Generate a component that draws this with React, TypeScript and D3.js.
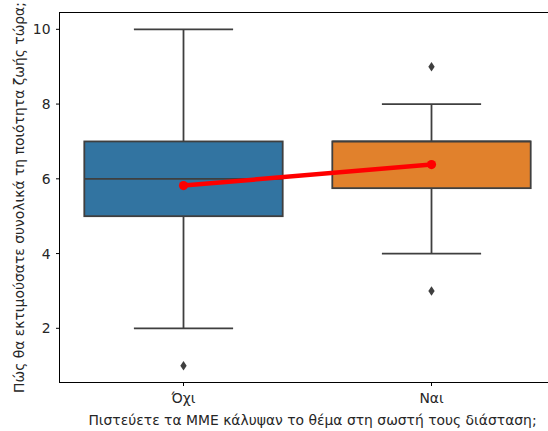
import React from "react";
import * as d3 from "d3";

const categories = ["Όχι", "Ναι"];
const q1 = [5, 5.75];
const medians = [6, 7];
const q3 = [7, 7];
const whiskerLow = [2, 4];
const whiskerHigh = [10, 8];
const outliers = [[1], [3, 9]];
const means = [5.82, 6.38];
const colors = ["#3274a1", "#e1812c"];
const yTicks = [2, 4, 6, 8, 10];
const xLabel = "Πιστεύετε τα ΜΜΕ κάλυψαν το θέμα στη σωστή τους διάσταση;";
const yLabel = "Πώς θα εκτιμούσατε συνολικά τη ποιότητα ζωής τώρα;";

const W = 548, H = 431;
const left = 59.5, right = 555.5, top = 12.5, bottom = 382.5;
const font = "DejaVu Sans, sans-serif";
const fs = 13.9;
const gray = "#3f3f3f";

export default function App() {
  const x = d3.scaleBand<string>().domain(categories).range([left, right]).paddingInner(0).paddingOuter(0);
  const y = d3.scaleLinear().domain([0.55, 10.45]).range([bottom, top]);
  const bw = x.bandwidth();
  const boxW = bw * 0.8;
  const cx = (i: number) => (x(categories[i]) as number) + bw / 2;
  const line = d3.line<number>().x((_, i) => cx(i)).y((d) => y(d));
  const diamond = d3.symbol().type(d3.symbolDiamond).size(24);

  return (
    <svg width={W} height={H} style={{ position: "absolute", left: 0, top: 0, background: "#fff" }} fontFamily={font}>
      {categories.map((c, i) => {
        const xc = cx(i);
        return (
          <g key={c}>
            <line x1={xc} x2={xc} y1={y(q3[i])} y2={y(whiskerHigh[i])} stroke={gray} strokeWidth={1.8} />
            <line x1={xc} x2={xc} y1={y(q1[i])} y2={y(whiskerLow[i])} stroke={gray} strokeWidth={1.8} />
            <line x1={xc - boxW / 4} x2={xc + boxW / 4} y1={y(whiskerHigh[i])} y2={y(whiskerHigh[i])} stroke={gray} strokeWidth={1.8} />
            <line x1={xc - boxW / 4} x2={xc + boxW / 4} y1={y(whiskerLow[i])} y2={y(whiskerLow[i])} stroke={gray} strokeWidth={1.8} />
            <rect x={xc - boxW / 2} y={y(q3[i])} width={boxW} height={y(q1[i]) - y(q3[i])} fill={colors[i]} stroke={gray} strokeWidth={1.8} />
            <line x1={xc - boxW / 2} x2={xc + boxW / 2} y1={y(medians[i])} y2={y(medians[i])} stroke={gray} strokeWidth={1.8} />
            {outliers[i].map((o, j) => (
              <path key={j} d={diamond() as string} transform={`translate(${xc},${y(o)}) scale(1.2,1.05)`} fill={gray} />
            ))}
          </g>
        );
      })}
      <path d={line(means) as string} fill="none" stroke="#ff0000" strokeWidth={4.5} />
      {means.map((m, i) => (
        <circle key={i} cx={cx(i)} cy={y(m)} r={4.6} fill="#ff0000" />
      ))}
      <rect x={left} y={top} width={right - left} height={bottom - top} fill="none" stroke="#000" strokeWidth={1} />
      {yTicks.map((t) => (
        <g key={t}>
          <line x1={left - 3.5} x2={left} y1={y(t)} y2={y(t)} stroke="#000" strokeWidth={1} />
          <text x={left - 9} y={y(t)} dy="0.36em" textAnchor="end" fontSize={fs} fill="#262626">{t}</text>
        </g>
      ))}
      {categories.map((c, i) => (
        <g key={c}>
          <line x1={cx(i)} x2={cx(i)} y1={bottom} y2={bottom + 3.5} stroke="#000" strokeWidth={1} />
          <text x={cx(i)} y={bottom + 20.5} textAnchor="middle" fontSize={fs} fill="#262626">{c}</text>
        </g>
      ))}
      <text x={(60 + 547) / 2 + 9} y={424.5} textAnchor="middle" fontSize={fs} fill="#262626">{xLabel}</text>
      <text transform={`translate(24,${(top + bottom) / 2}) rotate(-90)`} textAnchor="middle" fontSize={fs} fill="#262626">{yLabel}</text>
    </svg>
  );
}
